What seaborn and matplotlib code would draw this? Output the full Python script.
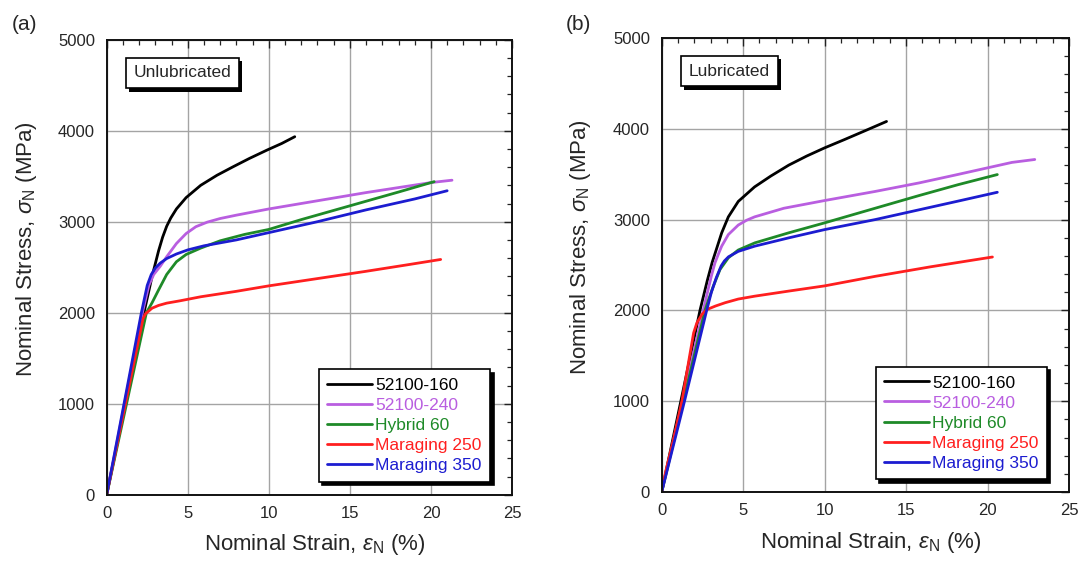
import matplotlib
matplotlib.use("Agg")
import matplotlib.pyplot as plt
import matplotlib.patheffects as pe
from matplotlib.ticker import MultipleLocator
import pandas as pd
import seaborn as sns

# ---------------------------------------------------------------- data
materials = ["52100-160", "52100-240", "Hybrid 60", "Maraging 250", "Maraging 350"]
colors = ["#000000", "#b95ee0", "#1e8a28", "#ff1f1f", "#1c1cd0"]

# (a) unlubricated compression, nominal strain (%) / nominal stress (MPa)
unlub_160_strain = [0, 2.3, 2.8, 3.2, 3.45, 3.7, 3.95, 4.3, 4.9, 5.8, 6.8, 7.8, 8.8, 9.9, 10.8, 11.6]
unlub_160_stress = [0, 2000, 2400, 2680, 2830, 2950, 3040, 3140, 3265, 3400, 3510, 3604, 3695, 3788, 3860, 3934]

unlub_240_strain = [0, 2.2, 2.6, 2.9, 3.3, 3.7, 4.3, 4.9, 5.5, 6.2, 7.0, 8.0, 10.0, 12.0, 14.0, 16.0, 18.0, 20.0, 21.3]
unlub_240_stress = [0, 2000, 2300, 2420, 2510, 2615, 2760, 2870, 2945, 2995, 3035, 3072, 3140, 3200, 3260, 3320, 3375, 3430, 3456]

unlub_h60_strain = [0, 2.45, 2.8, 3.2, 3.7, 4.3, 4.9, 5.8, 7.0, 8.5, 10.0, 12.0, 14.0, 16.0, 18.0, 20.2]
unlub_h60_stress = [0, 2000, 2110, 2250, 2420, 2560, 2640, 2710, 2790, 2860, 2915, 3023, 3124, 3225, 3326, 3440]

unlub_m250_strain = [0, 2.24, 2.4, 2.57, 2.8, 3.2, 3.7, 4.5, 5.8, 8.0, 10.0, 13.0, 16.0, 18.5, 20.6]
unlub_m250_stress = [0, 1935, 1990, 2015, 2050, 2080, 2105, 2130, 2175, 2235, 2295, 2375, 2455, 2525, 2585]

unlub_m350_strain = [0, 2.14, 2.5, 2.75, 3.0, 3.3, 3.7, 4.3, 5.0, 6.0, 8.0, 10.0, 13.0, 16.0, 19.0, 21.0]
unlub_m350_stress = [0, 2000, 2300, 2420, 2490, 2545, 2595, 2645, 2690, 2735, 2800, 2880, 3000, 3130, 3250, 3340]

# (b) lubricated compression
lub_160_strain = [0, 2.35, 2.8, 3.1, 3.37, 3.68, 4.09, 4.7, 5.7, 6.7, 7.8, 8.9, 10.0, 11.2, 12.5, 13.8]
lub_160_stress = [0, 2000, 2330, 2530, 2680, 2853, 3030, 3200, 3360, 3480, 3600, 3700, 3790, 3880, 3980, 4081]

lub_240_strain = [0, 2.55, 2.85, 3.05, 3.27, 3.48, 3.68, 4.09, 4.7, 5.2, 5.7, 7.5, 10.0, 13.1, 15.8, 18.0, 20.0, 21.5, 22.9]
lub_240_stress = [0, 2000, 2230, 2380, 2524, 2620, 2707, 2835, 2940, 2992, 3030, 3125, 3210, 3310, 3404, 3490, 3570, 3630, 3662]

lub_h60_strain = [0, 2.66, 2.9, 3.17, 3.58, 4.09, 4.7, 5.72, 7.77, 10.0, 13.1, 15.8, 18.2, 20.6]
lub_h60_stress = [0, 2000, 2130, 2267, 2451, 2579, 2665, 2744, 2853, 2964, 3125, 3265, 3385, 3496]

lub_m250_strain = [0, 0.25, 0.7, 1.24, 1.71, 1.96, 2.16, 2.47, 2.78, 3.3, 3.9, 4.7, 5.72, 7.77, 10.0, 13.1, 16.5, 20.3]
lub_m250_stress = [0, 230, 560, 1000, 1494, 1753, 1863, 1956, 2010, 2048, 2085, 2125, 2157, 2212, 2270, 2375, 2480, 2588]

lub_m350_strain = [0, 1.39, 2.76, 3.05, 3.35, 3.65, 3.85, 4.1, 4.7, 5.7, 7.8, 10.0, 13.1, 15.8, 18.2, 20.6]
lub_m350_stress = [0, 994, 2000, 2200, 2360, 2490, 2545, 2590, 2650, 2707, 2799, 2890, 3000, 3108, 3204, 3301]

unlubricated = [
    (unlub_160_strain, unlub_160_stress),
    (unlub_240_strain, unlub_240_stress),
    (unlub_h60_strain, unlub_h60_stress),
    (unlub_m250_strain, unlub_m250_stress),
    (unlub_m350_strain, unlub_m350_stress),
]
lubricated = [
    (lub_160_strain, lub_160_stress),
    (lub_240_strain, lub_240_stress),
    (lub_h60_strain, lub_h60_stress),
    (lub_m250_strain, lub_m250_stress),
    (lub_m350_strain, lub_m350_stress),
]


def to_frame(curves):
    rows = []
    for name, (strain, stress) in zip(materials, curves):
        for e, s in zip(strain, stress):
            rows.append({"strain": e, "stress": s, "material": name})
    return pd.DataFrame(rows)


# ---------------------------------------------------------------- style
sns.set_style("white")
plt.rcParams["font.family"] = ["Liberation Sans", "DejaVu Sans"]
plt.rcParams["mathtext.fontset"] = "custom"
plt.rcParams["mathtext.rm"] = "Liberation Sans"
plt.rcParams["mathtext.it"] = "Liberation Sans:italic"
plt.rcParams["mathtext.bf"] = "Liberation Sans:bold"

W, H = 1078, 561
fig = plt.figure(figsize=(W / 100, H / 100), dpi=100)

panels = [
    # left, right, top, bottom in pixels
    ((106.7, 512.0, 39.7, 494.7), unlubricated, "Unlubricated", "(a)", 12),
    ((661.7, 1069.0, 38.0, 492.0), lubricated, "Lubricated", "(b)", 566),
]

for (l, r, t, b), curves, cond, tag, tag_x in panels:
    ax = fig.add_axes([l / W, 1 - b / H, (r - l) / W, (b - t) / H])
    df = to_frame(curves)
    sns.lineplot(data=df, x="strain", y="stress", hue="material",
                 hue_order=materials, palette=colors, sort=False,
                 estimator=None, linewidth=2.0, legend=False, ax=ax)

    ax.set_xlim(0, 25)
    ax.set_ylim(0, 5000)
    ax.xaxis.set_major_locator(MultipleLocator(5))
    ax.xaxis.set_minor_locator(MultipleLocator(1))
    ax.yaxis.set_major_locator(MultipleLocator(1000))
    ax.yaxis.set_minor_locator(MultipleLocator(200))
    ax.set_axisbelow(True)
    ax.grid(True, which="major", color="#a4a4a4", linewidth=1.0)
    ax.tick_params(which="both", direction="in", top=True, right=True,
                   color="#222222", labelsize=12)
    ax.tick_params(which="major", length=6, width=1.0)
    ax.tick_params(which="minor", length=3.5, width=0.9)
    ax.tick_params(axis="x", which="major", pad=8)
    ax.tick_params(axis="y", which="major", pad=8.5)
    for sp in ax.spines.values():
        sp.set_visible(True)
        sp.set_color("#111111")
        sp.set_linewidth(1.4)

    ax.set_xlabel(r"Nominal Strain, $\varepsilon_{\mathrm{N}}$ (%)", fontsize=16)
    ax.set_ylabel(r"Nominal Stress, $\sigma_{\mathrm{N}}$ (MPa)", fontsize=16)
    ax.xaxis.set_label_coords(0.513, -0.083)
    ax.yaxis.set_label_coords(-0.168, 0.54)

    # condition tag with a solid drop shadow
    txt = ax.text(0.066, 0.927, cond, transform=ax.transAxes, fontsize=12.5,
                  ha="left", va="center",
                  bbox=dict(boxstyle="square,pad=0.45", fc="white",
                            ec="black", lw=1.2))
    txt.get_bbox_patch().set_path_effects([
        pe.SimplePatchShadow(offset=(2.5, -2.5), shadow_rgbFace="black", alpha=1.0),
        pe.Normal(),
    ])

    leg = ax.legend(handles=ax.lines[:len(materials)], labels=materials,
                    loc="lower right", bbox_to_anchor=(0.946, 0.028),
                    borderaxespad=0, fontsize=12.5, frameon=True, fancybox=False,
                    edgecolor="black", framealpha=1, handlelength=2.6,
                    handletextpad=0.15, labelspacing=0.28, borderpad=0.5,
                    shadow={"ox": 2.5, "oy": -2.5, "facecolor": "black",
                            "edgecolor": "black", "alpha": 1.0})
    leg.get_frame().set_linewidth(1.2)
    for text, c in zip(leg.get_texts(), colors):
        text.set_color(c)

    fig.text(tag_x / W, 1 - 24 / H, tag, fontsize=15, ha="left", va="center")

fig.savefig("out.png", dpi=100)
